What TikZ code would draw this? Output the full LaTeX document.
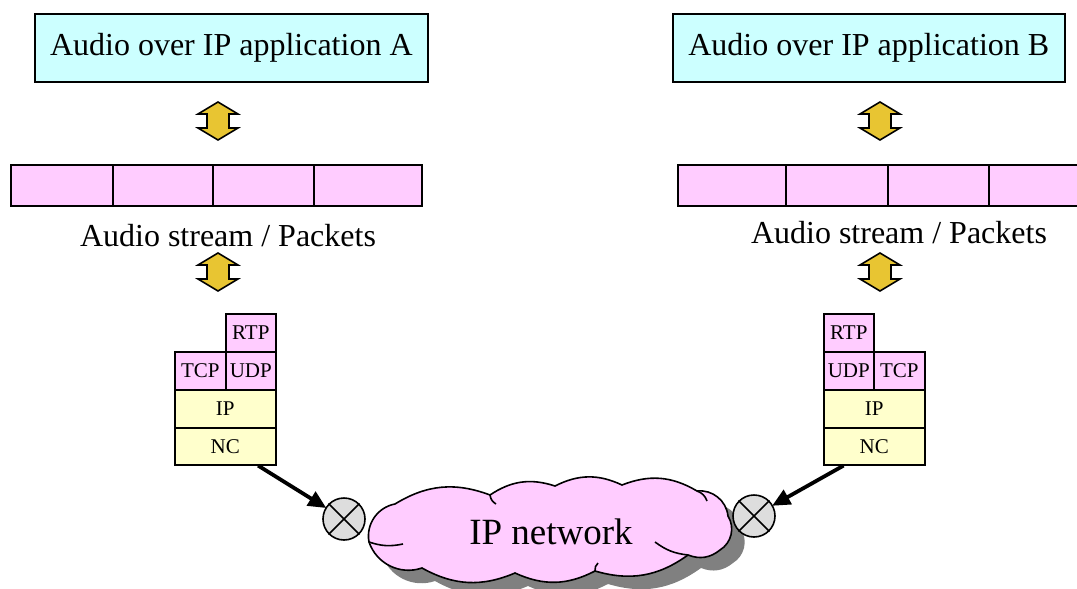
\documentclass[tikz,border=0pt]{standalone}
\usepackage{fontspec}
\setmainfont{Liberation Serif}
\usetikzlibrary{calc,arrows.meta}
\definecolor{appcyan}{HTML}{CCFFFF}
\definecolor{pinkfill}{HTML}{FFCCFF}
\definecolor{yelfill}{HTML}{FFFFCC}
\definecolor{goldfill}{HTML}{E8C532}
\definecolor{knotgray}{HTML}{DDDDDD}
\definecolor{shadowgray}{HTML}{808080}
\begin{document}
\begin{tikzpicture}[x=1pt,y=-1pt,
  box/.style={draw, line width=1.6pt, inner sep=0pt, anchor=north west},
  appbox/.style={box, fill=appcyan, minimum height=68pt, font=\fontsize{32}{36}\selectfont},
  pktbox/.style={box, fill=pinkfill, minimum height=41pt},
  protopink/.style={box, fill=pinkfill, minimum height=38pt, font=\fontsize{21}{24}\selectfont},
  protoyel/.style={box, fill=yelfill, minimum height=38pt, font=\fontsize{21}{24}\selectfont},
  biglabel/.style={font=\fontsize{32}{36}\selectfont, inner sep=0pt},
  dblarrow/.style={draw, line width=1.6pt, fill=goldfill, line join=miter},
  knot/.style={circle, draw, line width=1.6pt, fill=knotgray, minimum size=42pt, inner sep=0pt},
  link/.style={line width=3.8pt, -{Triangle[length=18pt,width=16pt]}, shorten >=-1pt},
  cloudline/.style={line width=1.6pt},
  puff/.style={bend left=26},
  sidepuff/.style={bend left=45}
]
\clip (0,0) rectangle (1077,589);

% applications
\node[appbox, minimum width=393pt] (appA) at (34,13) {Audio over IP application A};
\node[appbox, minimum width=392pt] (appB) at (672,13) {Audio over IP application B};

% packets A
\node[pktbox, minimum width=102pt] (pa1) at (10,164) {};
\node[pktbox, minimum width=100pt] (pa2) at (112,164) {};
\node[pktbox, minimum width=101pt] (pa3) at (212,164) {};
\node[pktbox, minimum width=108pt] (pa4) at (313,164) {};
% packets B
\node[pktbox, minimum width=108pt] (pb1) at (677,164) {};
\node[pktbox, minimum width=102pt] (pb2) at (785,164) {};
\node[pktbox, minimum width=101pt] (pb3) at (887,164) {};
\node[pktbox, minimum width=102pt] (pb4) at (988,164) {};

\node[biglabel] (strA) at (228,236) {Audio stream / Packets};
\node[biglabel] (strB) at (899,233) {Audio stream / Packets};

% double arrows
\foreach \cx/\cy in {218/121, 218/272, 880/121, 880/272}{
  \draw[dblarrow, shift={(\cx,\cy)}]
    (0,-19) -- (20,-7) -- (11,-7) -- (11,7) -- (20,7) -- (0,19)
    -- (-20,7) -- (-11,7) -- (-11,-7) -- (-20,-7) -- cycle;
}

% stack A
\node[protopink, minimum width=50pt] (rtpA) at (225,313) {RTP};
\node[protopink, minimum width=51pt] (tcpA) at (174,351) {TCP};
\node[protopink, minimum width=50pt] (udpA) at (225,351) {UDP};
\node[protoyel, minimum width=101pt] (ipA) at (174,389) {IP};
\node[protoyel, minimum width=101pt, minimum height=37pt] (ncA) at (174,427) {NC};
% stack B
\node[protopink, minimum width=50pt] (rtpB) at (823,313) {RTP};
\node[protopink, minimum width=50pt] (udpB) at (823,351) {UDP};
\node[protopink, minimum width=51pt] (tcpB) at (873,351) {TCP};
\node[protoyel, minimum width=101pt] (ipB) at (823,389) {IP};
\node[protoyel, minimum width=101pt, minimum height=37pt] (ncB) at (823,427) {NC};

% cloud (shadow, then body)
\def\cloudpath{(369,542) to[sidepuff] (395,504) to[puff] (490,495) to[puff] (555,486)
  to[puff] (622,485) to[puff] (697,491) to[sidepuff] (728,516) to[sidepuff] (720,550)
  to[bend left=30] (688,555) to[puff] (595,571) to[puff] (515,573)
  to[puff] (422,568) to[sidepuff] cycle}
\fill[shadowgray, shift={(13,13)}] \cloudpath;
\draw[cloudline, fill=pinkfill] \cloudpath;
% inner arcs of the cloud
\draw[cloudline] (369,542) to[bend right=15] (403,544);
\draw[cloudline] (490,495) to[bend right=25] (496,504);
\draw[cloudline] (697,491) to[bend left=25] (707,501);
\draw[cloudline] (688,555) to[bend left=15] (655,542);
\draw[cloudline] (595,571) to[bend left=25] (598,563);
\node[font=\fontsize{37}{42}\selectfont, inner sep=0pt] (net) at (551,532) {IP network};

% network interfaces
\node[knot] (kA) at (344,519) {};
\draw[line width=1.6pt] (kA.45) -- (kA.225) (kA.135) -- (kA.-45);
\node[knot] (kB) at (754,516) {};
\draw[line width=1.6pt] (kB.45) -- (kB.225) (kB.135) -- (kB.-45);

\coordinate (outA) at ($(ncA.south west)!0.82!(ncA.south east)$);
\coordinate (outB) at ($(ncB.south west)!0.2!(ncB.south east)$);
\draw[link] (outA) -- (kA);
\draw[link] (outB) -- (kB);
\end{tikzpicture}
\end{document}
